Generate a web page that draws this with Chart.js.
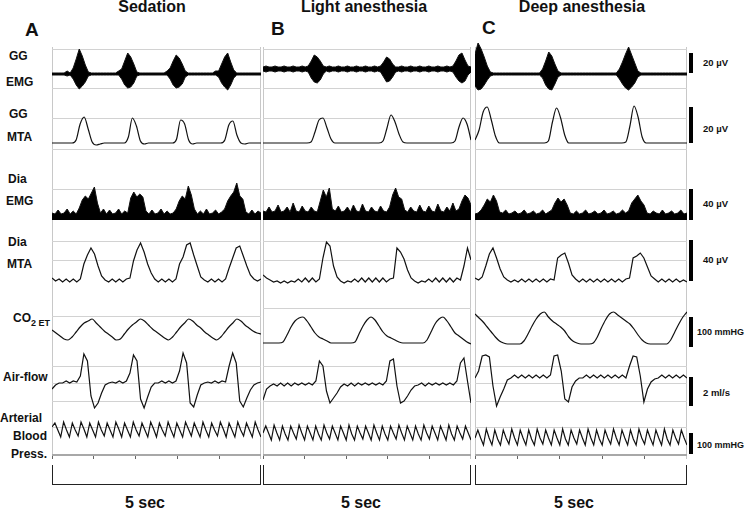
<!DOCTYPE html>
<html><head><meta charset="utf-8">
<script src="https://cdn.jsdelivr.net/npm/chart.js"></script>
<style>
html,body{margin:0;padding:0;background:#fff}
body{width:745px;height:510px;position:relative;overflow:hidden;font-family:Arial,"Liberation Sans",Helvetica,sans-serif;color:#111}
.t{position:absolute;font-weight:bold;white-space:nowrap;line-height:1}
.cell{position:absolute}
.frame{position:absolute;border-left:1px solid #c8c8c8;border-right:1px solid #c8c8c8;box-sizing:border-box}
.brk{position:absolute;border:1px solid #222;border-top:none;box-sizing:border-box}
.bar{position:absolute;background:#000;width:4px}
</style></head><body>

<div class="t" style="font-size:16px;left:152px;top:-1.5px;transform:translateX(-50%)">Sedation</div>
<div class="t" style="font-size:16px;left:364px;top:-1.5px;transform:translateX(-50%)">Light anesthesia</div>
<div class="t" style="font-size:16px;left:582px;top:-1.5px;transform:translateX(-50%)">Deep anesthesia</div>
<div class="t" style="font-size:19px;left:25px;top:20px">A</div>
<div class="t" style="font-size:19px;left:271px;top:19px">B</div>
<div class="t" style="font-size:19px;left:482px;top:18px">C</div>

<div class="t" style="font-size:12px;left:9px;top:50px">GG</div>
<div class="t" style="font-size:12px;left:6px;top:76px">EMG</div>
<div class="t" style="font-size:12px;left:9px;top:108px">GG</div>
<div class="t" style="font-size:12px;left:7px;top:131px">MTA</div>
<div class="t" style="font-size:12px;left:8px;top:173px">Dia</div>
<div class="t" style="font-size:12px;left:6px;top:195px">EMG</div>
<div class="t" style="font-size:12px;left:8px;top:236px">Dia</div>
<div class="t" style="font-size:12px;left:7px;top:258px">MTA</div>
<div class="t" style="font-size:12px;left:13px;top:312px">CO<span style="font-size:9px;position:relative;top:4px">2 ET</span></div>
<div class="t" style="font-size:12px;left:3px;top:371px">Air-flow</div>
<div class="t" style="font-size:12px;left:0px;top:412px">Arterial</div>
<div class="t" style="font-size:12px;left:13px;top:430px">Blood</div>
<div class="t" style="font-size:12px;left:11px;top:448px">Press.</div>

<div class="bar" style="left:689px;top:53px;height:20px"></div>
<div class="bar" style="left:689px;top:107px;height:36px"></div>
<div class="bar" style="left:689px;top:189px;height:31px"></div>
<div class="bar" style="left:689px;top:240px;height:41px"></div>
<div class="bar" style="left:689px;top:317px;height:30px"></div>
<div class="bar" style="left:689px;top:377px;height:29px"></div>
<div class="bar" style="left:689px;top:433px;height:21px"></div>
<div class="t" style="font-size:9.5px;left:703px;top:57.5px">20 µV</div>
<div class="t" style="font-size:9.5px;left:703px;top:123.5px">20 µV</div>
<div class="t" style="font-size:9.5px;left:703px;top:198.5px">40 µV</div>
<div class="t" style="font-size:9.5px;left:703px;top:254.5px">40 µV</div>
<div class="t" style="font-size:9px;left:697px;top:328px">100 mmHG</div>
<div class="t" style="font-size:9.5px;left:703px;top:387.5px">2 ml/s</div>
<div class="t" style="font-size:9px;left:697px;top:441px">100 mmHG</div>

<div class="t" style="font-size:16px;left:145px;top:495px;transform:translateX(-50%)">5 sec</div>
<div class="t" style="font-size:16px;left:361px;top:495px;transform:translateX(-50%)">5 sec</div>
<div class="t" style="font-size:16px;left:574px;top:495px;transform:translateX(-50%)">5 sec</div>

<script>
// ---------------- DATA (display units) ----------------
const panels = ['A', 'B', 'C'];
const timeSpanSec = 5;

// Row 1: GG EMG envelopes (upper / lower)
const ggEmgHiA = [26,26,26,26,26,28,26,31,40,50,43,34,27,
  26,26,26,26,26,26,26,26,26,28,30,38,46,42,35,27,
  26,26,26,26,26,26,26,26,26,28,31,38,44,41,35,28,
  26,26,26,26,26,26,26,26,26,28,28,35,42,46,37,29,
  26,26,26,26,26,26,26,26,26];
const ggEmgLoA = [24,24,24,24,24,23,24,20,14,10,13,17,23,
  24,24,24,24,24,24,24,24,24,24,20,14,11,12,16,23,
  24,24,24,24,24,24,24,24,24,24,20,14,11,12,15,22,
  24,24,24,24,24,24,24,24,24,24,22,16,12,9,14,21,
  24,24,24,24,24,24,24,24,24];
const ggEmgHiB = [32,33,32,32,33,32,32,33,32,32,33,32,32,33,32,
  33,38,44,42,38,33,
  32,33,32,32,33,32,32,33,32,32,33,32,32,33,32,32,33,32,
  33,37,42,40,35,32,
  32,33,32,32,33,32,32,33,32,32,33,32,32,33,32,32,33,32,
  33,38,44,46,39,33,32];
const ggEmgLoB = [28,27,28,28,27,28,28,27,28,28,27,28,28,27,28,
  27,21,17,16,19,25,
  28,27,28,28,27,28,28,27,28,28,27,28,28,27,28,28,27,28,
  27,22,17,18,22,27,
  28,27,28,28,27,28,28,27,28,28,27,28,28,27,28,28,27,28,
  27,22,18,16,18,24,27];
const ggEmgHiC = [45,56,50,42,33,27,
  26,26,26,26,26,26,26,26,26,26,26,26,26,26,26,26,
  30,38,47,43,35,28,
  26,26,26,26,26,26,26,26,26,26,26,26,26,26,26,26,26,26,26,
  30,37,45,52,44,36,28,
  26,26,26,26,26,26,26,26,26,26,26,26,26,26,26,26];
const ggEmgLoC = [13,9,10,14,19,23,
  24,24,24,24,24,24,24,24,24,24,24,24,24,24,24,24,
  21,14,10,9,15,22,
  24,24,24,24,24,24,24,24,24,24,24,24,24,24,24,24,24,24,24,
  20,15,11,9,12,16,22,
  24,24,24,24,24,24,24,24,24,24,24,24,24,24,24,24];

// Row 2: GG MTA
const ggMtaA = [19,19,19,19,19,19,22,38,45,33,20,17,18,
  19,19,19,19,19,19,25,44,36,21,18,
  19,19,19,19,19,19,19,23,42,38,22,18,
  19,19,19,19,19,19,19,22,37,41,27,19,18,
  19,19,19,19];
const ggMtaB = [19,19,19,19,19,19,19,19,19,19,19,19,
  20,30,42,44,34,23,
  19,19,19,19,19,19,19,19,19,19,19,19,
  21,34,47,40,28,20,
  19,19,19,19,19,19,19,19,19,19,19,19,
  21,35,44,38,22];
const ggMtaC = [22,32,50,55,42,26,
  19,19,19,19,19,19,19,19,19,19,19,19,
  21,40,54,44,27,
  19,19,19,19,19,19,19,19,19,19,19,19,19,19,
  20,36,56,45,25,
  19,19,19,19,19,19,19,19,19,19,19];

// Row 3: Dia EMG (rectified)
const diaEmgA = [10,9,13,9,10,14,9,12,9,15,23,27,24,30,36,20,10,14,9,13,
  9,10,14,9,12,10,25,31,26,29,26,12,9,13,9,10,14,9,12,9,
  10,14,22,27,24,37,28,14,9,12,9,14,9,10,13,9,11,14,22,27,
  31,40,27,24,11,9,13,9,12,10];
const diaEmgB = [12,11,16,11,12,18,11,12,16,11,20,12,11,17,12,11,16,12,11,22,
  33,26,35,14,12,17,11,12,16,11,18,12,11,19,12,11,16,12,11,17,
  12,11,16,28,35,26,24,13,11,16,12,11,18,12,11,17,12,11,19,12,
  11,16,12,20,12,14,22,28,25,18];
const diaEmgC = [9,10,13,18,24,21,28,22,11,10,13,9,10,12,9,10,13,9,10,12,
  9,10,13,9,11,13,20,25,21,24,18,10,9,12,9,10,13,9,10,12,
  9,10,13,9,10,12,9,10,13,10,12,20,24,28,22,18,10,9,12,10,
  9,13,9,10,12,9,10,13,9,10];

// Row 4: Dia MTA
const diaMtaA = [10,7,9,6,9,6,9,6,9,24,33,40,34,22,12,8,6,9,6,9,
  6,9,10,27,38,45,36,24,15,9,6,9,6,9,6,9,24,31,43,45,
  33,22,11,8,6,9,6,9,6,9,20,30,40,42,32,22,13,9,7,9];
const diaMtaB = [13,10,8,6,7,5,7,5,7,6,9,6,10,6,10,6,9,30,46,42,
  22,11,7,5,7,6,9,6,10,6,10,6,10,6,10,6,9,10,40,36,
  29,18,10,7,5,7,6,9,6,10,6,10,6,10,6,10,8,22,40,28];
const diaMtaC = [10,8,11,22,34,40,30,19,11,8,6,8,6,9,6,9,6,9,6,9,
  6,9,8,30,33,35,25,13,9,6,9,6,9,6,9,6,9,6,9,6,
  9,6,9,10,30,32,35,30,21,12,9,6,9,6,9,6,9,6,8,6];

// Row 5: CO2 end-tidal
const co2A = [18,15,12,9,8,11,16,21,25,27,29,25,21,17,14,11,8,9,14,19,
  23,26,29,27,23,19,16,13,10,8,11,16,21,25,29,27,23,20,16,13,
  10,8,11,16,21,25,29,27,23,20,17,15,14];
const co2B = [5,5,5,5,5,6,13,21,27,30,31,27,21,15,11,9,7,5,5,5,
  5,5,5,6,14,22,28,31,28,22,16,12,10,8,6,5,5,5,5,5,
  5,8,16,24,29,31,27,21,15,12,9,6,4];
const co2C = [34,30,26,21,16,11,7,5,4,4,4,4,7,14,22,29,34,36,31,27,
  24,21,17,11,7,5,4,4,4,5,11,20,28,34,36,33,30,27,24,19,
  13,8,5,4,4,4,4,4,8,16,24,31,36];

// Row 6: Air-flow
const flowA = [22,26,28,28,30,28,30,29,35,57,50,15,3,8,18,26,28,29,28,30,
  28,30,38,56,50,12,3,14,24,28,28,30,28,30,28,30,40,58,48,8,
  4,16,26,28,29,28,30,28,30,29,45,58,48,10,4,13,21,26,28,29];
const flowB = [11,22,25,27,25,28,25,28,25,28,26,28,26,28,26,30,50,45,20,8,
  13,18,24,27,25,28,25,28,26,28,26,28,26,28,26,30,50,52,25,8,
  10,15,21,25,26,28,25,28,26,28,26,28,26,28,26,30,48,53,30,8];
const flowC = [33,40,55,56,54,25,5,14,22,31,33,36,33,36,33,36,33,36,33,36,
  33,36,55,56,40,12,9,24,30,33,33,36,33,36,33,36,33,36,33,36,
  33,36,33,45,55,54,35,9,22,29,32,33,36,33,36,33,36,33,36,33];

// Row 7: Arterial blood pressure
const abpA = [28,
  32,25,18, 33,25,18, 32,25,19, 33,26,18, 32,25,18, 33,25,19,
  32,25,18, 33,26,18, 32,25,18, 33,25,19, 32,25,18, 33,26,18,
  32,25,19, 33,25,18, 32,25,18, 33,26,19, 32,25,18, 33,25,18,
  32,25,19, 33,26,18, 32,25,18, 33,25,19, 32,25,18, 33,25,18];
const abpB = [22,
  29,22,15, 30,22,15, 29,21,15, 29,22,16, 30,22,15, 29,22,15, 29,21,15,
  30,22,16, 29,22,15, 29,22,15, 30,21,15, 29,22,16, 29,22,15, 30,22,15,
  29,21,15, 29,22,16, 30,22,15, 29,22,15, 29,21,15, 30,22,16, 29,22,15,
  29,22,15, 30,21,15, 29,22,16, 29,22,15];
const abpC = [17,
  25,17,10, 26,17,10, 25,16,10, 25,17,11, 26,17,10, 25,17,10, 25,16,10,
  26,17,11, 25,17,10, 25,17,10, 26,16,10, 25,17,11, 25,17,10, 26,17,10,
  25,16,10, 25,17,11, 26,17,10, 25,17,10, 25,16,10, 26,17,11, 25,17,10,
  25,17,10, 26,16,10, 25,17,11, 25,17,10];

// grid line levels per row (display units), 0 = row separator
const gridR1 = [0, 11, 50];
const gridR2 = [0, 13, 44];
const gridR3 = [0, 34];
const gridR4 = [0, 28, 46];
const gridR5A = [0, 31], gridR5B = [0, 40], gridR5C = [0, 31];
const gridR6 = [0, 10, 28, 45];
const gridR7 = [28];

// ---------------- LAYOUT ----------------
const PX = [[52, 261], [263, 471], [475, 687]];
const RY = [[42, 99], [99, 162], [162, 223], [223, 288], [288, 348], [348, 411], [411, 459]];

PX.forEach(([x0, x1]) => {
  const f = document.createElement('div'); f.className = 'frame';
  f.style.cssText = `left:${x0}px;top:47px;width:${x1 - x0}px;height:412px`;
  document.body.appendChild(f);
  const b = document.createElement('div'); b.className = 'brk';
  b.style.cssText = `left:${x0}px;top:465px;width:${x1 - x0}px;height:20px`;
  document.body.appendChild(b);
});

const toXY = arr => arr.map((v, i) => ({ x: i * timeSpanSec / (arr.length - 1), y: v }));

function line(arr, extra) {
  return Object.assign({ data: toXY(arr), borderColor: '#111', borderWidth: 1.2, pointRadius: 0, fill: false, tension: 0 }, extra || {});
}

function mk(row, p, datasets, grid, isAxis) {
  const [x0, x1] = PX[p], [y0, y1] = RY[row];
  const w = x1 - x0, h = y1 - y0;
  const div = document.createElement('div'); div.className = 'cell';
  div.style.cssText = `left:${x0}px;top:${y0}px;width:${w}px;height:${h}px`;
  const cv = document.createElement('canvas');
  cv.width = w; cv.height = h; cv.style.width = w + 'px'; cv.style.height = h + 'px';
  div.appendChild(cv); document.body.appendChild(div);
  const yMax = isAxis ? h - 4 : h;
  new Chart(cv, {
    type: 'line',
    data: { datasets },
    options: {
      responsive: false, animation: false, events: [],
      layout: { padding: 0 },
      plugins: { legend: { display: false }, tooltip: { enabled: false } },
      scales: {
        x: isAxis ? {
          type: 'linear', min: 0, max: timeSpanSec, display: true,
          ticks: { display: false, stepSize: 1 },
          border: { display: true, color: '#a8a8a8', width: 2 },
          grid: { drawOnChartArea: false, drawTicks: true, tickLength: 4, color: '#666' }
        } : { type: 'linear', min: 0, max: timeSpanSec, display: false },
        y: {
          min: 0, max: yMax, display: true,
          ticks: { display: false },
          border: { display: false },
          grid: { drawTicks: false, lineWidth: 1, color: c => c.tick && c.tick.value === 0 ? '#3c3c3c' : '#d2d2d2' },
          afterBuildTicks: s => { s.ticks = grid.map(v => ({ value: v })); }
        }
      }
    }
  });
}

const emgHi = [ggEmgHiA, ggEmgHiB, ggEmgHiC], emgLo = [ggEmgLoA, ggEmgLoB, ggEmgLoC];
const mtaGG = [ggMtaA, ggMtaB, ggMtaC];
const emgDia = [diaEmgA, diaEmgB, diaEmgC];
const mtaDia = [diaMtaA, diaMtaB, diaMtaC];
const co2 = [co2A, co2B, co2C];
const grid5 = [gridR5A, gridR5B, gridR5C];
const flow = [flowA, flowB, flowC];
const abp = [abpA, abpB, abpC];

panels.forEach((name, p) => {
  mk(0, p, [line(emgHi[p], { borderWidth: 1 }), line(emgLo[p], { borderWidth: 1, fill: '-1', backgroundColor: '#000' })], gridR1);
  mk(1, p, [line(mtaGG[p], { cubicInterpolationMode: 'monotone' })], gridR2);
  mk(2, p, [line(emgDia[p], { borderWidth: 1, fill: { value: 3 }, backgroundColor: '#000' })], gridR3);
  mk(3, p, [line(mtaDia[p])], gridR4);
  mk(4, p, [line(co2[p], { cubicInterpolationMode: 'monotone' })], grid5[p]);
  mk(5, p, [line(flow[p])], gridR6);
  mk(6, p, [line(abp[p])], gridR7, true);
});
</script>
</body></html>
